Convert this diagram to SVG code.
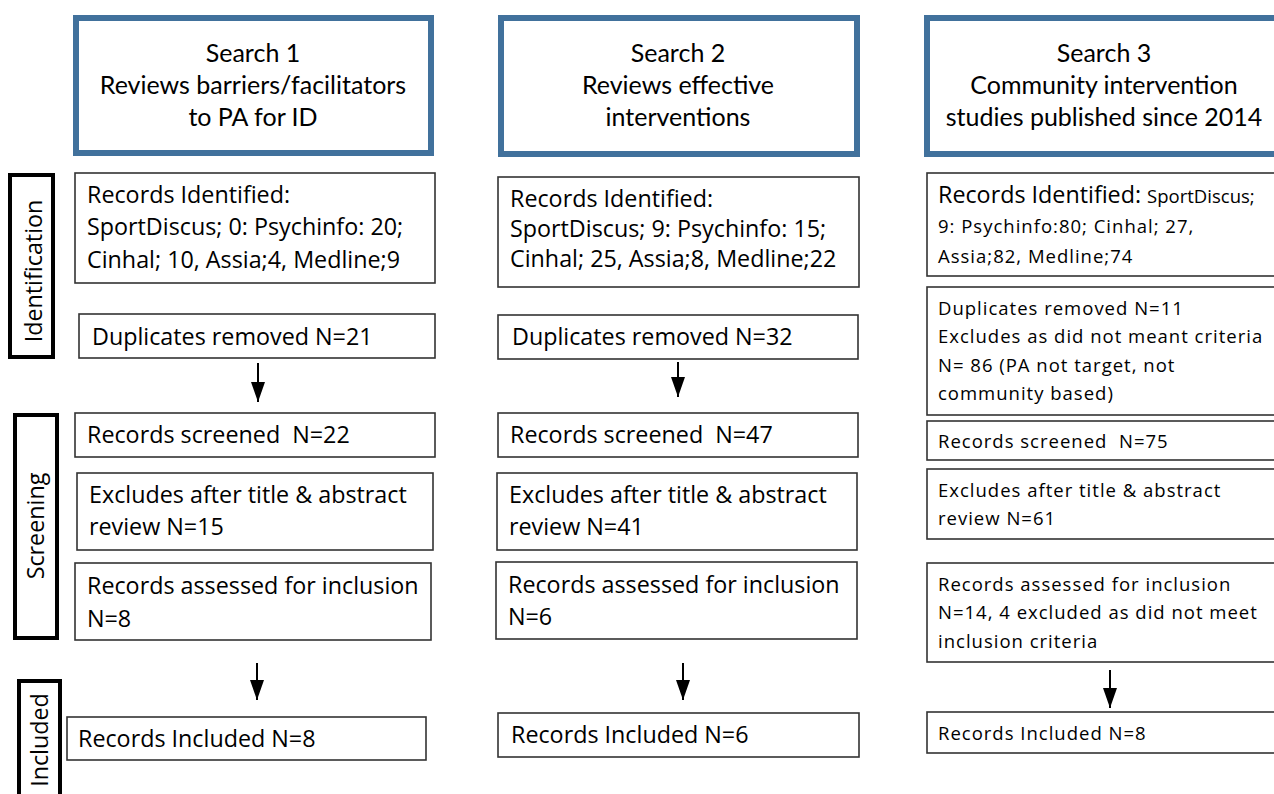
<svg xmlns="http://www.w3.org/2000/svg" width="1274" height="794" viewBox="0 0 1274 794">
<defs>
<style>
.hdr{fill:#fff;stroke:#41719c;stroke-width:6}
.box{fill:#fff;stroke:#333;stroke-width:1.6}
.stage{fill:#fff;stroke:#000;stroke-width:4}
.t{fill:#000}
.h{font-family:Lato,"Liberation Sans",sans-serif;font-size:25px;text-anchor:middle}
.b{font-family:"Open Sans","Liberation Sans",sans-serif;font-size:23.3px}
.s{font-family:"Open Sans","Liberation Sans",sans-serif;font-size:18.5px;letter-spacing:1px}
.conn{stroke:#000;stroke-width:2;fill:none}
</style>
<marker id="ah" markerWidth="20" markerHeight="14" refX="20" refY="7" orient="auto" markerUnits="userSpaceOnUse" viewBox="0 0 20 14">
<path d="M0,0 L20,7 L0,14 Z" fill="#000"/>
</marker>
</defs>
<rect width="1274" height="794" fill="#fff"/>

<g id="stage-identification">
<rect class="stage" x="10" y="175" width="43" height="182"/>
<text class="t b" transform="translate(42,271) rotate(-90)" text-anchor="middle">Identification</text>
</g>
<g id="stage-screening">
<rect class="stage" x="15" y="415" width="42" height="223"/>
<text class="t b" transform="translate(44,526) rotate(-90)" text-anchor="middle">Screening</text>
</g>
<g id="stage-included">
<rect class="stage" x="19" y="681" width="41" height="130"/>
<text class="t b" transform="translate(48,740) rotate(-90)" text-anchor="middle">Included</text>
</g>

<!-- Column 1 -->
<g id="s1-header">
<rect class="hdr" x="76" y="18" width="355" height="135"/>
<text class="t h" x="253" y="62">Search 1</text>
<text class="t h" x="253" y="94">Reviews barriers/facilitators</text>
<text class="t h" x="253" y="126">to PA for ID</text>
</g>
<g id="s1-identified">
<rect class="box" x="75" y="173" width="360" height="110"/>
<text class="t b" x="87" y="203">Records Identified:</text>
<text class="t b" x="87" y="235">SportDiscus; 0: Psychinfo: 20;</text>
<text class="t b" x="87" y="268">Cinhal; 10, Assia;4, Medline;9</text>
</g>
<g id="s1-duplicates">
<rect class="box" x="79" y="314" width="356" height="44"/>
<text class="t b" x="92" y="345">Duplicates removed N=21</text>
</g>
<g id="s1-screened">
<rect class="box" x="75" y="413" width="360" height="44"/>
<text class="t b" x="87" y="443" xml:space="preserve">Records screened  N=22</text>
</g>
<g id="s1-excludes">
<rect class="box" x="77" y="473" width="356" height="77"/>
<text class="t b" x="89" y="503">Excludes after title &amp; abstract</text>
<text class="t b" x="89" y="535">review N=15</text>
</g>
<g id="s1-assessed">
<rect class="box" x="75" y="563" width="356" height="77"/>
<text class="t b" x="87" y="594">Records assessed for inclusion</text>
<text class="t b" x="87" y="627">N=8</text>
</g>
<g id="s1-included">
<rect class="box" x="67" y="717" width="359" height="43"/>
<text class="t b" x="78" y="747">Records Included N=8</text>
</g>

<!-- Column 2 -->
<g id="s2-header">
<rect class="hdr" x="501" y="18" width="356" height="136"/>
<text class="t h" x="678" y="62">Search 2</text>
<text class="t h" x="678" y="94">Reviews effective</text>
<text class="t h" x="678" y="126">interventions</text>
</g>
<g id="s2-identified">
<rect class="box" x="498" y="177" width="361" height="110"/>
<text class="t b" x="510" y="207">Records Identified:</text>
<text class="t b" x="510" y="237">SportDiscus; 9: Psychinfo: 15;</text>
<text class="t b" x="510" y="267">Cinhal; 25, Assia;8, Medline;22</text>
</g>
<g id="s2-duplicates">
<rect class="box" x="498" y="315" width="360" height="44"/>
<text class="t b" x="512" y="345">Duplicates removed N=32</text>
</g>
<g id="s2-screened">
<rect class="box" x="498" y="413" width="360" height="44"/>
<text class="t b" x="510" y="443" xml:space="preserve">Records screened  N=47</text>
</g>
<g id="s2-excludes">
<rect class="box" x="497" y="473" width="360" height="77"/>
<text class="t b" x="509" y="503">Excludes after title &amp; abstract</text>
<text class="t b" x="509" y="535">review N=41</text>
</g>
<g id="s2-assessed">
<rect class="box" x="496" y="562" width="361" height="77"/>
<text class="t b" x="508" y="593">Records assessed for inclusion</text>
<text class="t b" x="508" y="625">N=6</text>
</g>
<g id="s2-included">
<rect class="box" x="498" y="713" width="361" height="44"/>
<text class="t b" x="511" y="743">Records Included N=6</text>
</g>

<!-- Column 3 -->
<g id="s3-header">
<rect class="hdr" x="927" y="18" width="354" height="136"/>
<text class="t h" x="1104" y="62">Search 3</text>
<text class="t h" x="1104" y="94">Community intervention</text>
<text class="t h" x="1104" y="126">studies published since 2014</text>
</g>
<g id="s3-identified">
<rect class="box" x="927" y="173" width="360" height="103"/>
<text class="t" x="938" y="203"><tspan class="b">Records Identified: </tspan><tspan class="s" style="letter-spacing:0">SportDiscus;</tspan></text>
<text class="t s" x="938" y="233">9: Psychinfo:80; Cinhal; 27,</text>
<text class="t s" x="938" y="263">Assia;82, Medline;74</text>
</g>
<g id="s3-duplicates">
<rect class="box" x="927" y="287" width="360" height="128"/>
<text class="t s" x="938" y="315">Duplicates removed N=11</text>
<text class="t s" x="938" y="343">Excludes as did not meant criteria</text>
<text class="t s" x="938" y="372">N= 86 (PA not target, not</text>
<text class="t s" x="938" y="400">community based)</text>
</g>
<g id="s3-screened">
<rect class="box" x="927" y="421" width="360" height="39"/>
<text class="t s" x="938" y="448" xml:space="preserve">Records screened  N=75</text>
</g>
<g id="s3-excludes">
<rect class="box" x="927" y="469" width="360" height="70"/>
<text class="t s" x="938" y="497">Excludes after title &amp; abstract</text>
<text class="t s" x="938" y="525">review N=61</text>
</g>
<g id="s3-assessed">
<rect class="box" x="927" y="563" width="360" height="99"/>
<text class="t s" x="938" y="591">Records assessed for inclusion</text>
<text class="t s" x="938" y="619">N=14, 4 excluded as did not meet</text>
<text class="t s" x="938" y="648">inclusion criteria</text>
</g>
<g id="s3-included">
<rect class="box" x="927" y="712" width="360" height="41"/>
<text class="t s" x="938" y="740">Records Included N=8</text>
</g>

<g id="connectors">
<line class="conn" x1="258" y1="363" x2="258" y2="402" marker-end="url(#ah)"/>
<line class="conn" x1="678" y1="362" x2="678" y2="397" marker-end="url(#ah)"/>
<line class="conn" x1="257" y1="663" x2="257" y2="700" marker-end="url(#ah)"/>
<line class="conn" x1="683" y1="663" x2="683" y2="700" marker-end="url(#ah)"/>
<line class="conn" x1="1110" y1="670" x2="1110" y2="708" marker-end="url(#ah)"/>
</g>
</svg>
